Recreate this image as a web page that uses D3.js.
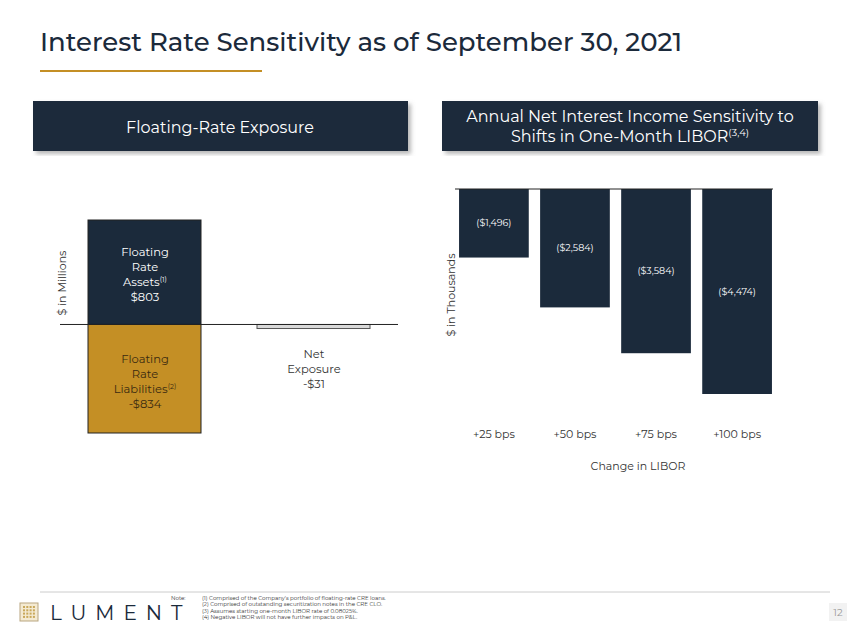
<!DOCTYPE html>
<html><head><meta charset="utf-8">
<script src="https://cdn.jsdelivr.net/npm/d3@7"></script>
<style>body{margin:0;background:#fff}text{font-family:Montserrat,"Open Sans","Noto Sans",sans-serif}</style>
</head><body><svg id="c" width="850" height="638"></svg>
<script>
const navy="#1b2a3b", gold="#c48f25";
const leftCats=["assets","liabilities","net"];
const leftValues=[803,-834,-31];
const rightCats=["+25 bps","+50 bps","+75 bps","+100 bps"];
const rightValues=[-1496,-2584,-3584,-4474];
const rightLabels=["($1,496)","($2,584)","($3,584)","($4,474)"];
const notes=["(1) Comprised of the Company's portfolio of floating-rate CRE loans.","(2) Comprised of outstanding securitization notes in the CRE CLO.","(3) Assumes starting one-month LIBOR rate of 0.08025%.","(4) Negative LIBOR will not have further impacts on P&L."];

const svg=d3.select("#c");
svg.append("text").attr("x",40).attr("y",51).attr("font-size",26).attr("fill",navy).attr("font-weight",500).text("Interest Rate Sensitivity as of September 30, 2021");
svg.append("rect").attr("x",40).attr("y",70).attr("width",222).attr("height",2).attr("fill",gold);
const defs=svg.append("defs");
const f=defs.append("filter").attr("id","sh");
f.append("feDropShadow").attr("dx",3).attr("dy",3).attr("stdDeviation",2).attr("flood-color","#888").attr("flood-opacity",0.6);
svg.append("rect").attr("x",33).attr("y",101).attr("width",375).attr("height",50).attr("fill",navy).attr("filter","url(#sh)");
svg.append("text").attr("x",220).attr("y",133).attr("text-anchor","middle").attr("fill","#fff").attr("font-size",16).text("Floating-Rate Exposure");
svg.append("rect").attr("x",442).attr("y",101).attr("width",376).attr("height",50).attr("fill",navy).attr("filter","url(#sh)");
const ht=svg.append("text").attr("x",630).attr("y",122).attr("text-anchor","middle").attr("fill","#fff").attr("font-size",16);
ht.append("tspan").attr("x",630).text("Annual Net Interest Income Sensitivity to");
const t2=ht.append("tspan").attr("x",630).attr("dy",20).text("Shifts in One-Month LIBOR");
ht.append("tspan").attr("font-size",10).attr("dy",-6).text("(3,4)");

// left chart
const yL=d3.scaleLinear().domain([-834,803]).range([433,220]);
const xL=d3.scaleOrdinal().domain(leftCats).range([88,88,257]);
const gL=svg.append("g");
gL.selectAll("rect").data(leftValues).join("rect")
 .attr("x",(d,i)=>xL(leftCats[i])).attr("width",113)
 .attr("y",d=>yL(Math.max(0,d))).attr("height",d=>Math.abs(yL(d)-yL(0)))
 .attr("fill",(d,i)=>i==0?navy:i==1?gold:"#d9d9d9").attr("stroke",(d,i)=>i==2?"#555":"#222").attr("stroke-width",1);
gL.append("line").attr("x1",60).attr("x2",398).attr("y1",yL(0)).attr("y2",yL(0)).attr("stroke","#222");
function multi(x,y,lines,fill,sups){const t=svg.append("text").attr("text-anchor","middle").attr("font-size",11.5).attr("fill",fill);
 lines.forEach((l,i)=>{const s=t.append("tspan").attr("x",x).attr("y",y+i*15).text(l);
  if(sups&&sups[i]){t.append("tspan").attr("font-size",7).attr("dy",-4).text(sups[i]);}});}
multi(145,256,["Floating","Rate","Assets","$"+leftValues[0]],"#fff",[null,null,"(1)",null]);
multi(145,363,["Floating","Rate","Liabilities","-$"+(-leftValues[1])],"#3a2a10",[null,null,"(2)",null]);
multi(314,358,["Net","Exposure","-$"+(-leftValues[2])],"#333");
svg.append("text").attr("transform","translate(66,283) rotate(-90)").attr("text-anchor","middle").attr("font-size",11).attr("fill","#333").text("$ in Millions");

// right chart
const xR=d3.scaleBand().domain(rightCats).range([455,776]).paddingInner(0.14).paddingOuter(0.05);
const yR=d3.scaleLinear().domain([-4474,0]).range([394,189]);
svg.selectAll(".rb").data(rightValues).join("rect")
 .attr("x",(d,i)=>xR(rightCats[i])).attr("width",xR.bandwidth()).attr("y",yR(0)).attr("height",d=>yR(d)-yR(0)).attr("fill",navy);
svg.append("line").attr("x1",455).attr("x2",773).attr("y1",189).attr("y2",189).attr("stroke","#222");
svg.selectAll(".rl").data(rightValues).join("text").attr("text-anchor","middle").attr("font-size",9.5).attr("fill","#fff")
 .attr("x",(d,i)=>xR(rightCats[i])+xR.bandwidth()/2).attr("y",d=>(yR(0)+yR(d))/2+3).text((d,i)=>rightLabels[i]);
const ax=svg.append("g").attr("transform","translate(0,420)").call(d3.axisBottom(xR).tickSize(0).tickPadding(10));
ax.select(".domain").remove();ax.selectAll("text").attr("font-size",11).attr("fill","#333").attr("font-family","Montserrat,'Open Sans',sans-serif");
svg.append("text").attr("x",638).attr("y",470).attr("text-anchor","middle").attr("font-size",11).attr("fill","#333").text("Change in LIBOR");
svg.append("text").attr("transform","translate(455,295) rotate(-90)").attr("text-anchor","middle").attr("font-size",11).attr("fill","#333").text("$ in Thousands");

// footer
svg.append("line").attr("x1",40).attr("x2",830).attr("y1",592).attr("y2",592).attr("stroke","#ccc");
const lg=svg.append("g").attr("transform","translate(20,603)");
lg.append("rect").attr("width",18).attr("height",18).attr("fill","#f4ead2").attr("stroke","#b9a680");
for(let i=0;i<4;i++)for(let j=0;j<4;j++)lg.append("rect").attr("x",3+i*3.3).attr("y",3+j*3.3).attr("width",2).attr("height",2).attr("fill","#c9a85a");
svg.append("text").attr("x",50).attr("y",620).attr("font-size",20).attr("letter-spacing",9).attr("fill",navy).text("LUMENT");
svg.append("text").attr("x",171).attr("y",600).attr("font-size",5.5).attr("fill","#333").text("Note:");
notes.forEach((n,i)=>svg.append("text").attr("x",202).attr("y",600+i*6.3).attr("font-size",5.5).attr("fill","#333").text(n));
svg.append("rect").attr("x",829).attr("y",603).attr("width",18).attr("height",18).attr("fill","#f2f2f2");
svg.append("text").attr("x",838).attr("y",616).attr("text-anchor","middle").attr("font-size",10).attr("fill","#999").text("12");
</script></body></html>
